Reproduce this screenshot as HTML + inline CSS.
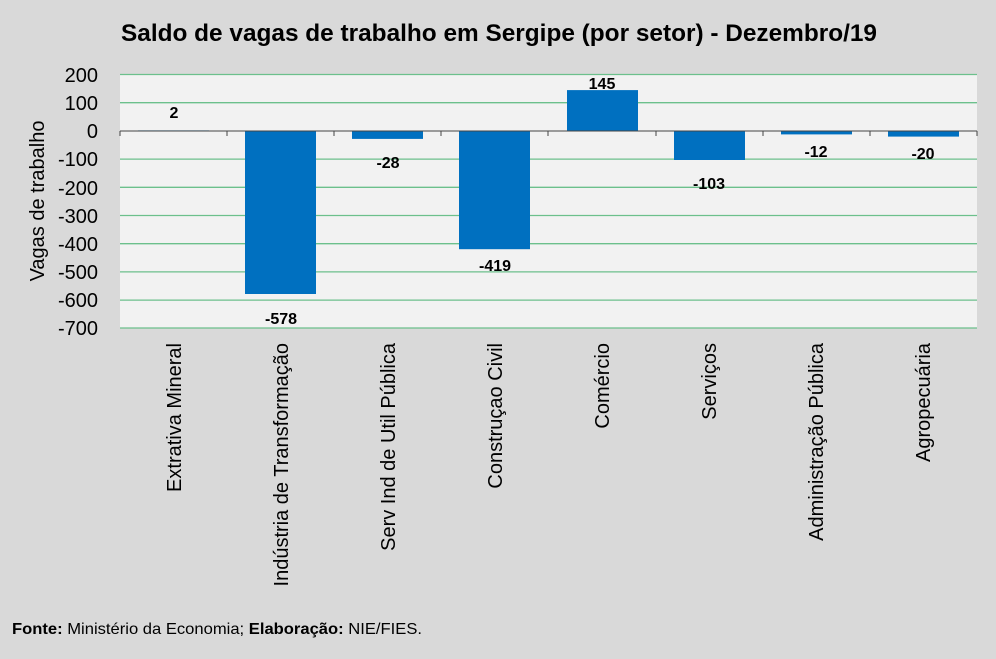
<!DOCTYPE html><html><head><meta charset="utf-8"><style>
body{margin:0;width:996px;height:654px;background:#d9d9d9;overflow:hidden;font-family:"Liberation Sans",sans-serif}
</style></head><body>
<svg width="996" height="654" xmlns="http://www.w3.org/2000/svg" font-family="Liberation Sans, sans-serif">
<text x="499" y="41" text-anchor="middle" font-size="24" font-weight="bold" fill="#000" textLength="756" lengthAdjust="spacingAndGlyphs">Saldo de vagas de trabalho em Sergipe (por setor) - Dezembro/19</text>
<rect x="120" y="74" width="857" height="254" fill="#f2f2f2"/>
<g stroke="#6cc08c" stroke-width="1.3">
<line x1="120" x2="977" y1="74.5" y2="74.5"/><line x1="120" x2="977" y1="102.7" y2="102.7"/>
<line x1="120" x2="977" y1="159.1" y2="159.1"/><line x1="120" x2="977" y1="187.3" y2="187.3"/>
<line x1="120" x2="977" y1="215.5" y2="215.5"/><line x1="120" x2="977" y1="243.7" y2="243.7"/>
<line x1="120" x2="977" y1="271.9" y2="271.9"/><line x1="120" x2="977" y1="300.1" y2="300.1"/>
<line x1="120" x2="977" y1="328" y2="328"/>
</g>
<g fill="#0070c0">
<rect x="138" y="130.4" width="71" height="1"/>
<rect x="245" y="131" width="71" height="163"/>
<rect x="352" y="131" width="71" height="7.9"/>
<rect x="459" y="131" width="71" height="118.2"/>
<rect x="567" y="90.1" width="71" height="40.9"/>
<rect x="674" y="131" width="71" height="29"/>
<rect x="781" y="131" width="71" height="3.4"/>
<rect x="888" y="131" width="71" height="5.6"/>
</g>
<line x1="120" x2="977" y1="131" y2="131" stroke="#444" stroke-width="1"/>
<g stroke="#444"><line x1="120" x2="120" y1="131" y2="136"/><line x1="227" x2="227" y1="131" y2="136"/><line x1="334" x2="334" y1="131" y2="136"/><line x1="441" x2="441" y1="131" y2="136"/><line x1="548" x2="548" y1="131" y2="136"/><line x1="656" x2="656" y1="131" y2="136"/><line x1="763" x2="763" y1="131" y2="136"/><line x1="870" x2="870" y1="131" y2="136"/><line x1="977" x2="977" y1="131" y2="136"/></g>
<g font-size="16" font-weight="bold" text-anchor="middle" fill="#000">
<text x="174" y="118">2</text><text x="281" y="324">-578</text><text x="388" y="168">-28</text>
<text x="495" y="271">-419</text><text x="602" y="89">145</text><text x="709" y="189">-103</text>
<text x="816" y="157">-12</text><text x="923" y="159">-20</text>
</g>
<g font-size="20" text-anchor="end" fill="#000">
<text x="98" y="82">200</text><text x="98" y="110">100</text><text x="98" y="138">0</text>
<text x="98" y="166">-100</text><text x="98" y="195">-200</text><text x="98" y="223">-300</text>
<text x="98" y="251">-400</text><text x="98" y="279">-500</text><text x="98" y="307">-600</text><text x="98" y="335">-700</text>
</g>
<text transform="translate(44,201) rotate(-90)" font-size="20" text-anchor="middle" fill="#000">Vagas de trabalho</text>
<g font-size="20" text-anchor="end" fill="#000">
<text transform="translate(181,343) rotate(-90)">Extrativa Mineral</text>
<text transform="translate(288,343) rotate(-90)">Indústria de Transformação</text>
<text transform="translate(395,343) rotate(-90)">Serv Ind de Util Pública</text>
<text transform="translate(502,343) rotate(-90)">Construçao Civil</text>
<text transform="translate(609,343) rotate(-90)">Comércio</text>
<text transform="translate(716,343) rotate(-90)">Serviços</text>
<text transform="translate(823,343) rotate(-90)">Administração Pública</text>
<text transform="translate(930,343) rotate(-90)">Agropecuária</text>
</g>
<text x="12" y="634" font-size="16" fill="#000" textLength="410" lengthAdjust="spacingAndGlyphs"><tspan font-weight="bold">Fonte:</tspan> Ministério da Economia; <tspan font-weight="bold">Elaboração:</tspan> NIE/FIES.</text>
</svg>
</body></html>
